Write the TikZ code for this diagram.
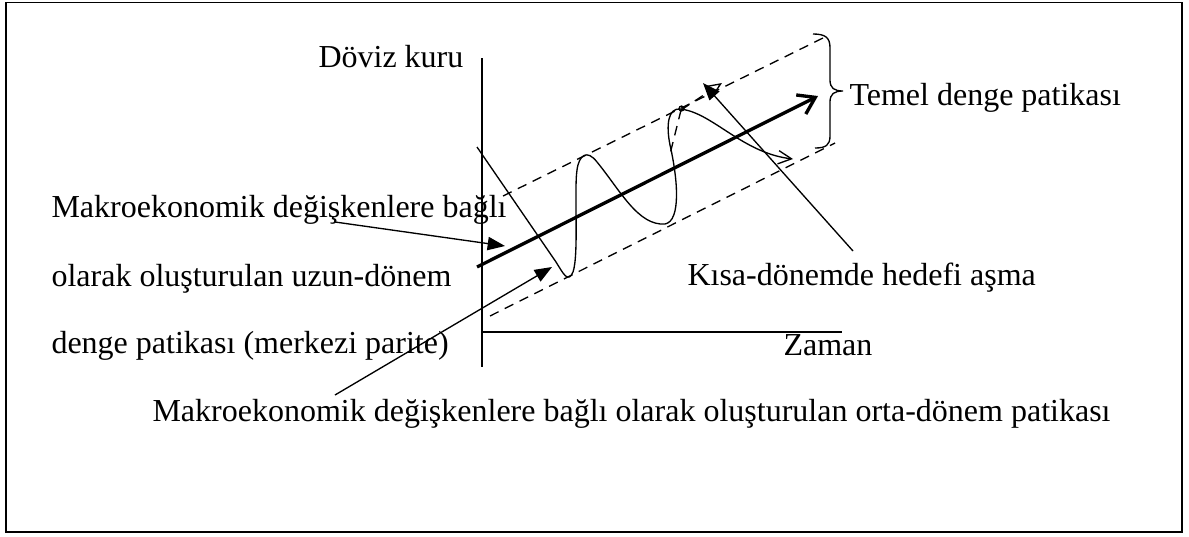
\documentclass[tikz,border=0pt]{standalone}
\usepackage{fontspec}
\setmainfont{Liberation Serif}
\usetikzlibrary{arrows.meta}
\begin{document}
\begin{tikzpicture}[x=0.375pt,y=-0.375pt,
  lbl/.style={anchor=base west,inner sep=0pt,font=\fontsize{12}{14}\selectfont},
  thinline/.style={line width=0.5pt},
  dsh/.style={line width=0.5pt,dash pattern=on 3.6pt off 2.6pt},
  ptr/.style={line width=0.5pt,-{Triangle[length=6.5pt,width=5pt]}},
  main/.style={line width=1.25pt,-{Straight Barb[length=6pt,width=8pt]}},
  wave/.style={line width=0.5pt,-{Straight Barb[length=5pt,width=5pt]}},
]
\useasboundingbox (0,0) rectangle (1189,536);
\draw[line width=0.65pt] (6,2.5) rectangle (1182,532);
% axes
\coordinate (yt) at (482,58);
\coordinate (yb) at (482,367);
\coordinate (xl) at (482,332);
\coordinate (xr) at (842,332);
\draw[thinline] (yt) -- (yb);
\draw[thinline] (xl) -- (xr);
% labels
\node[lbl] (doviz) at (318,67) {Döviz kuru};
\node[lbl] (zaman) at (783,355) {Zaman};
\node[lbl] (temel) at (849,105) {Temel denge patikası};
\node[lbl] (m1) at (51,217) {Makroekonomik değişkenlere bağlı};
\node[lbl] (m2) at (51,286) {olarak oluşturulan uzun-dönem};
\node[lbl] (m3) at (51,353) {denge patikası (merkezi parite)};
\node[lbl] (kisa) at (687,285) {Kısa-dönemde hedefi aşma};
\node[lbl] (orta) at (152,421) {Makroekonomik değişkenlere bağlı olarak oluşturulan orta-dönem patikası};
% bands
\coordinate (ua) at (503,196);
\coordinate (ub) at (823,38);
\coordinate (la) at (490,316);
\coordinate (lb) at (835,143);
\draw[dsh] (ua) -- (ub);
\draw[dsh] (la) -- (lb);
% main trend arrow
\coordinate (ma) at (477,267);
\coordinate (mb) at (818,96);
\draw[main] (ma) -- (mb);
% brace
\draw[line width=0.5pt] (813,34) .. controls (826,34) and (830,38) .. (830,48)
  -- (830,80) .. controls (830,88) and (834,91) .. (843,91)
  .. controls (834,91) and (830,94) .. (830,102)
  -- (830,136) .. controls (830,145) and (826,148) .. (815,148);
% wave
\coordinate (w0) at (477,147);
\coordinate (wend) at (793,159);
\draw[wave] (w0) -- (556,262)
  .. controls (563,273) and (568,284) .. (573,272)
  .. controls (579,255) and (574,190) .. (577,170)
  .. controls (579,155) and (587,149) .. (597,162)
  .. controls (620,190) and (638,226) .. (665,224)
  .. controls (681,221) and (678,180) .. (670,145)
  .. controls (666,125) and (668,108) .. (680,109)
  .. controls (712,112) and (742,153) .. (wend);
\draw[line width=0.5pt] (681.5,108.5) circle[radius=0.9pt];
\coordinate (wt) at (681,110);
\coordinate (wd) at (669,158);
\coordinate (wa) at (722,83);
\draw[dsh] (wt) -- (wd);
\draw[dsh,-{Triangle[open,length=6pt,width=5pt]}] (wt) -- (wa);
% pointers
\coordinate (p1s) at (335,222);
\coordinate (p1e) at (505,246);
\coordinate (p2s) at (335,395);
\coordinate (p2e) at (552,267);
\coordinate (p3s) at (853,251);
\coordinate (p3e) at (703,83);
\draw[ptr] (p1s) -- (p1e);
\draw[ptr] (p2s) -- (p2e);
\draw[ptr] (p3s) -- (p3e);
\end{tikzpicture}
\end{document}
